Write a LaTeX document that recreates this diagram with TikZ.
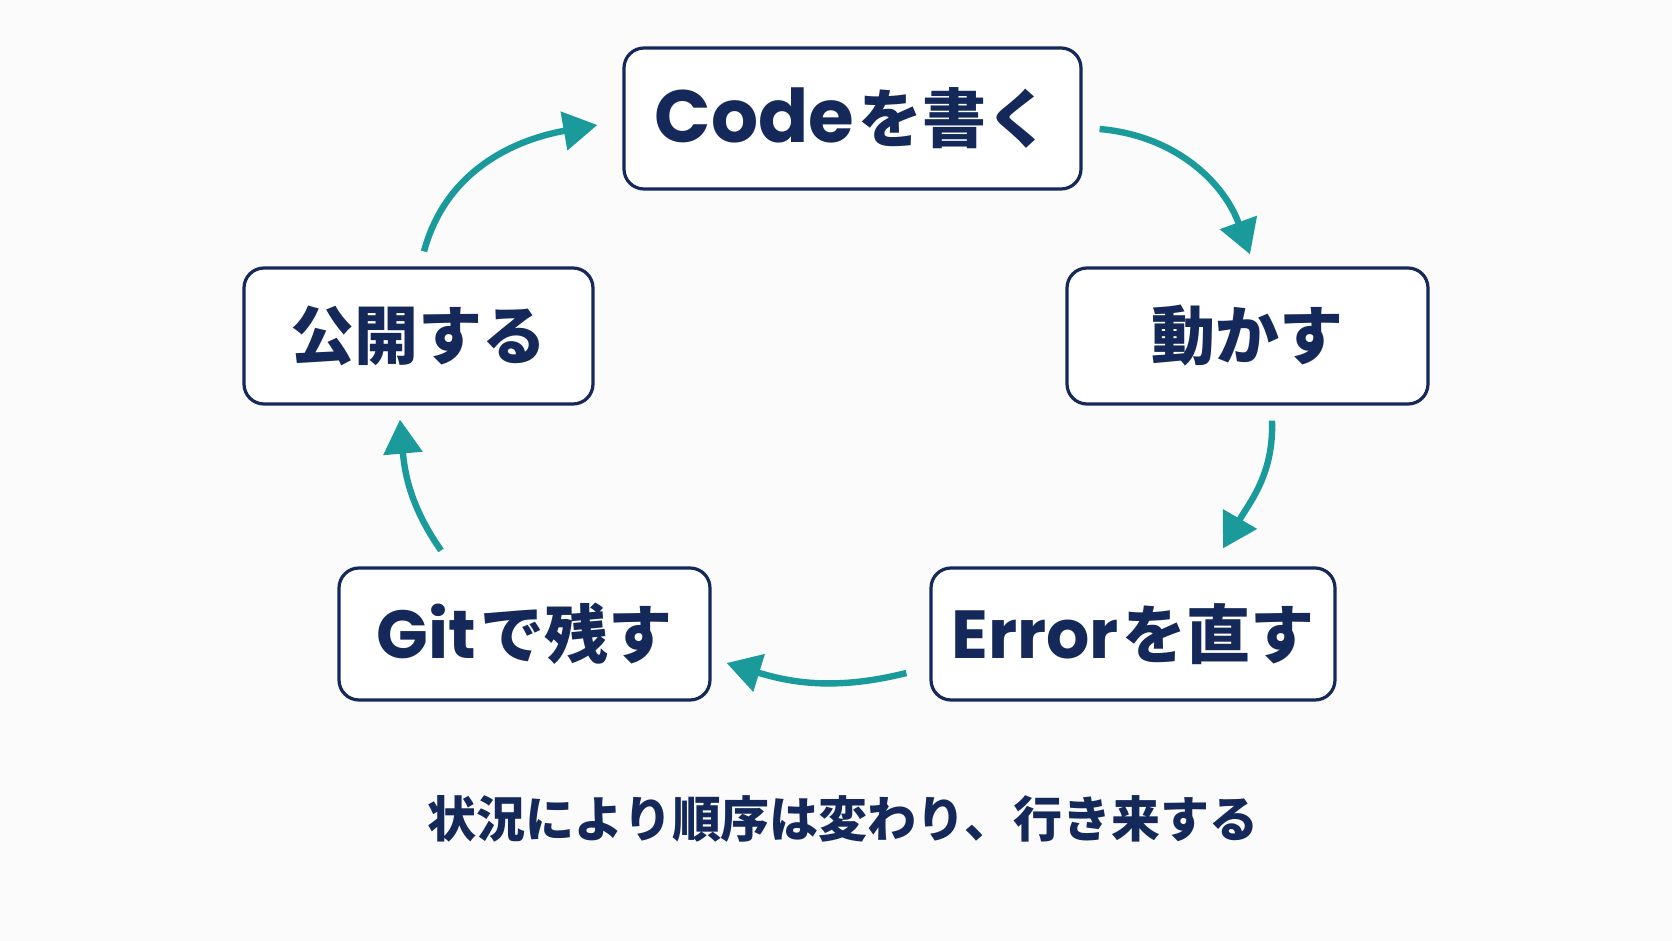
\documentclass[tikz,border=0pt]{standalone}
\usepackage{fontspec}
\setmainfont{Noto Sans CJK JP}
\newfontfamily\latfont{Poppins}
\usetikzlibrary{arrows.meta,calc}
\definecolor{navy}{HTML}{14285A}
\definecolor{teal}{HTML}{1A9A9A}
\definecolor{bg}{HTML}{FBFBFC}
\tikzset{
  stepbox/.style={draw=navy, line width=1.6pt, rounded corners=10pt, fill=white,
    text=navy, font=\bfseries\fontsize{32}{36}\selectfont, inner sep=0pt},
  flow/.style={draw=teal, line width=3.2pt, -{Triangle[length=17pt,width=19pt]}},
}
\newcommand{\lt}[2][34]{{\latfont\bfseries\fontsize{#1}{38}\selectfont #2}\hspace{2pt}}
\begin{document}
\begin{tikzpicture}[x=0.5pt,y=0.5pt]
\fill[bg] (0,0) rectangle (1672,-941);
\useasboundingbox (0,0) rectangle (1672,-941);
\node[stepbox, minimum width=228.5pt, minimum height=70.5pt] (code) at (852.5,-118.5) {\lt[37]{Code}を書く};
\node[stepbox, minimum width=180.5pt, minimum height=68pt] (move) at (1247.5,-336) {動かす};
\node[stepbox, minimum width=202pt, minimum height=66pt] (fix) at (1133,-634) {\lt{Error}を直す};
\node[stepbox, minimum width=185.5pt, minimum height=66pt] (git) at (524.5,-634) {\lt{Git}で残す};
\node[stepbox, minimum width=174.5pt, minimum height=68pt] (pub) at (418.5,-336) {公開する};
\node[text=navy, font=\bfseries\fontsize{24.5}{28}\selectfont] (note) at (843,-819) {状況により順序は変わり、行き来する};
\draw[flow] ($(code.east)+(17,-10.5)$) to[out=-5,in=110] ($(move.north)+(2.5,12)$);
\draw[flow] ($(move.south)+(24.5,-15)$) to[out=-88,in=60] ($(fix.north)+(90,18)$);
\draw[flow] ($(fix.west)+(-23,-39)$) to[out=-166,in=-17] ($(git.east)+(15,-29)$);
\draw[flow] ($(git.north)+(-83.5,16)$) to[out=125,in=-85] ($(pub.south)+(-18.5,-14)$);
\draw[flow] ($(pub.north)+(5.5,15)$) to[out=75,in=190] ($(code.west)+(-25,-6.5)$);
\end{tikzpicture}
\end{document}
